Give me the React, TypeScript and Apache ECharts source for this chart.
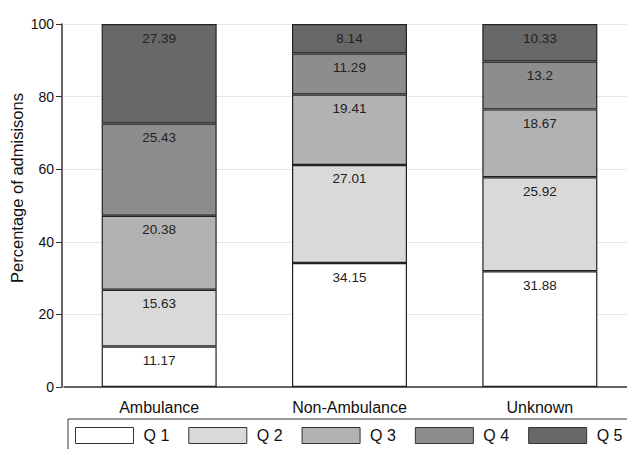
import React, { useEffect, useRef } from "react";
import * as echarts from "echarts";

const categories = ["Ambulance", "Non-Ambulance", "Unknown"];
const seriesNames = ["Q 1", "Q 2", "Q 3", "Q 4", "Q 5"];
const q1 = [11.17, 34.15, 31.88];
const q2 = [15.63, 27.01, 25.92];
const q3 = [20.38, 19.41, 18.67];
const q4 = [25.43, 11.29, 13.2];
const q5 = [27.39, 8.14, 10.33];
const yTitle = "Percentage of admisisons";
const colors = ["#ffffff", "#d9d9d9", "#b2b2b2", "#8d8d8d", "#686868"];

export default function App() {
  const ref = useRef<HTMLDivElement>(null);
  useEffect(() => {
    if (!ref.current) return;
    const chart = echarts.init(ref.current, null, { renderer: "svg" });
    const data = [q1, q2, q3, q4, q5];
    const font = "Liberation Sans, Arial, sans-serif";
    chart.setOption({
      animation: false,
      textStyle: { fontFamily: font },
      grid: { left: 64, top: 24, width: 571, bottom: 62, outerBoundsMode: "none", containLabel: false },
      graphic: [
        {
          type: "text",
          x: 17,
          y: 188,
          rotation: Math.PI / 2,
          style: {
            text: yTitle,
            fontSize: 16.5,
            fontFamily: font,
            fill: "#111",
            textAlign: "center",
            textVerticalAlign: "middle",
          },
        },
      ],
      xAxis: {
        type: "category",
        data: categories,
        axisLine: { lineStyle: { color: "#333", width: 1.5 } },
        axisTick: { show: false },
        axisLabel: { color: "#111", fontSize: 16, margin: 12, fontFamily: font },
      },
      yAxis: {
        type: "value",
        min: 0,
        max: 100,
        interval: 20,
        offset: 2,
        axisLine: { show: true, lineStyle: { color: "#333", width: 1.5 } },
        axisTick: { show: true, length: 6, lineStyle: { color: "#333" } },
        axisLabel: { color: "#111", fontSize: 14, margin: 8, fontFamily: font },
        splitLine: { lineStyle: { color: "#e6e6e6" } },
      },
      legend: {
        left: 68,
        top: 419,
        width: 600,
        padding: [8, 8, 8, 7],
        borderColor: "#333",
        borderWidth: 1,
        itemWidth: 58,
        itemHeight: 16,
        itemGap: 19,
        icon: "rect",
        data: seriesNames,
        textStyle: { fontSize: 16, color: "#111", fontFamily: font, padding: [0, 0, 0, 5] },
        itemStyle: { borderColor: "#333", borderWidth: 1 },
      },
      series: data.map((d, i) => ({
        name: seriesNames[i],
        type: "bar",
        stack: "total",
        data: d,
        barWidth: 115,
        itemStyle: { color: colors[i], borderColor: "#222", borderWidth: 1.2 },
        label: {
          show: true,
          position: "insideTop",
          distance: 7,
          color: "#222",
          fontSize: 13.5,
          fontFamily: font,
          formatter: (p: any) => String(p.value),
        },
      })),
    });
    return () => chart.dispose();
  }, []);
  return <div ref={ref} style={{ width: 627, height: 449, position: "absolute", left: 0, top: 0, background: "#fff" }} />;
}
